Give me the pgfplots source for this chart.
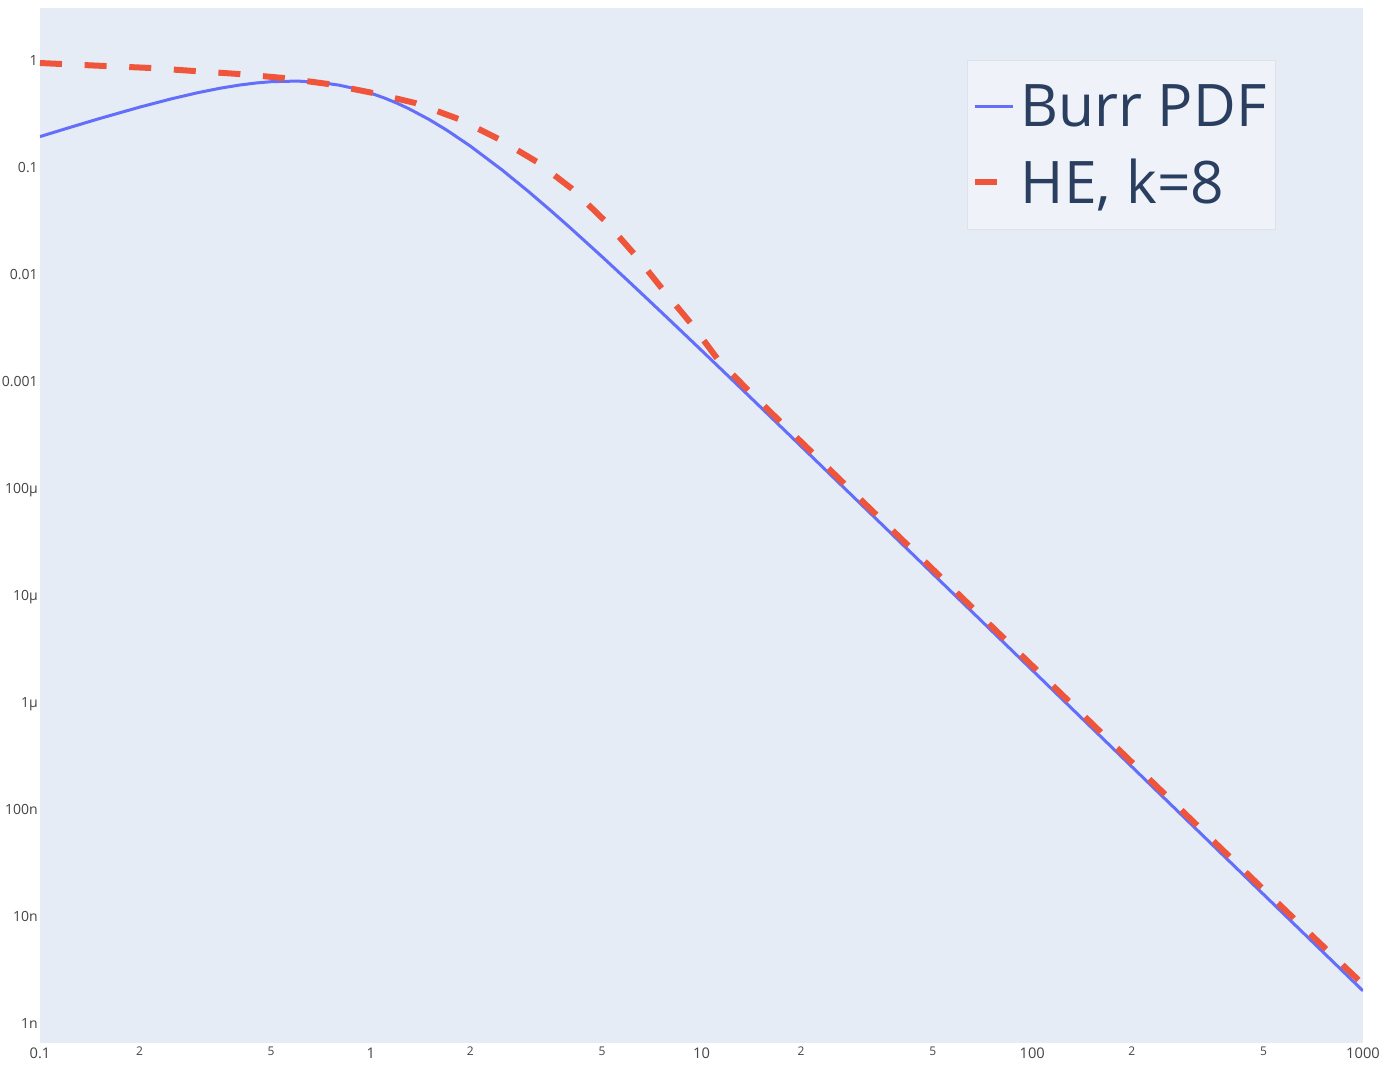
\documentclass[border=0pt]{standalone}
\usepackage{pgfplots}
\pgfplotsset{compat=1.18}
\usepackage{pgfplotstable}
\usepackage{fontspec}
\setmainfont{Open Sans}
\definecolor{plotbg}{HTML}{E5ECF6}
\definecolor{legbg}{HTML}{EFF2F8}
\definecolor{legborder}{HTML}{DDE1E8}
\definecolor{ticktxt}{HTML}{444444}
\definecolor{legtxt}{HTML}{2A3F5F}
\definecolor{burr}{HTML}{636EFA}
\definecolor{he}{HTML}{EF553B}

\pgfplotstableread{
x y
0.1 0.1961
0.12 0.2332
0.15 0.2869
0.2 0.3698
0.25 0.4429
0.3 0.5050
0.35 0.5556
0.4 0.5945
0.45 0.6224
0.5 0.6400
0.6 0.6488
0.7 0.6306
0.8 0.5949
0.9 0.5496
1 0.5000
1.1 0.4504
1.2 0.4031
1.3 0.3593
1.5 0.2840
1.7 0.2247
2 0.1600
2.5 0.09512
3 0.0600
3.5 0.03987
4 0.02768
5 0.01479
6 0.008766
7 0.0056
8 0.003787
10 0.001961
12 0.0011415
15 5.874e-4
20 2.488e-4
30 7.391e-5
50 1.599e-5
100 1.9996e-6
200 2.4999e-7
500 1.6e-8
1000 2.0e-9
}\burrtable

\pgfplotstableread{
x y
0.1 0.957
0.156 0.898
0.214 0.861
0.29 0.807
0.397 0.756
0.543 0.694
0.743 0.609
1.016 0.502
1.36 0.405
1.84 0.287
2.43 0.187
3.18 0.1138
4.06 0.0637
5.14 0.0313
6.29 0.01538
7.65 0.00724
9.36 0.00341
11.2 0.00162
14 8.0e-4
20 2.74e-4
30 8.1e-5
50 1.76e-5
100 2.2e-6
200 2.75e-7
500 1.78e-8
1000 2.3e-9
}\hetable

\begin{document}
\begin{tikzpicture}
\begin{axis}[
  xmode=log, ymode=log,
  scale only axis, width=992.25pt, height=776.25pt,
  xmin=0.1, xmax=1000, ymin=6.5e-10, ymax=3.13,
  axis background/.style={fill=plotbg},
  axis line style={draw=none},
  major tick length=0pt, minor tick length=0pt,
  tick style={draw=none},
  /pgf/number format/assume math mode=true,
  xtick={0.1,1,10,100,1000},
  xticklabels={0.1,1,10,100,1000},
  extra x ticks={0.2,0.5,2,5,20,50,200,500},
  extra x tick labels={2,5,2,5,2,5,2,5},
  extra x tick style={xticklabel style={font=\fontsize{9}{9}\selectfont, yshift=0.75pt}},
  ytick={1e-9,1e-8,1e-7,1e-6,1e-5,1e-4,1e-3,1e-2,1e-1,1},
  yticklabels={1n,10n,100n,1µ,10µ,100µ,0.001,0.01,0.1,1},
  xticklabel style={font=\fontsize{11}{11}\selectfont, text=ticktxt, anchor=north, inner sep=0pt, yshift=-3.75pt},
  yticklabel style={font=\fontsize{10.5}{10.5}\selectfont, text=ticktxt, anchor=east, inner sep=0pt, xshift=-1.5pt, text height=7.5pt, text depth=0pt},
  legend style={at={(0.7007,0.9498)}, anchor=north west, fill=legbg, draw=legborder, line width=0.75pt,
    font=\fontsize{44}{52}\selectfont, text=legtxt, inner xsep=3pt, inner ysep=16pt, row sep=18.75pt,
    nodes={inner xsep=4pt, inner ysep=2pt}},
  legend cell align=left,
]
\addplot[burr, line width=2.25pt, legend image code/.code={\draw[burr, line width=2.25pt] (0pt,0pt) -- (28.5pt,0pt);}] table {\burrtable};
\addlegendentry{Burr PDF}
\addplot[he, line width=4.5pt, dash pattern=on 16.5pt off 17pt, legend image code/.code={\draw[he, line width=4.5pt] (0pt,0pt) -- (16.5pt,0pt); \path (0pt,0pt) -- (28.5pt,0pt);}] table {\hetable};
\addlegendentry{HE, k=8}
\coordinate (LL) at (rel axis cs:0,0);
\coordinate (UR) at (rel axis cs:1,1);
\end{axis}
\pgfresetboundingbox
\path[use as bounding box] ([shift={(-30pt,-16.5pt)}]LL) rectangle ([shift={(18pt,6pt)}]UR);
\end{tikzpicture}
\end{document}
